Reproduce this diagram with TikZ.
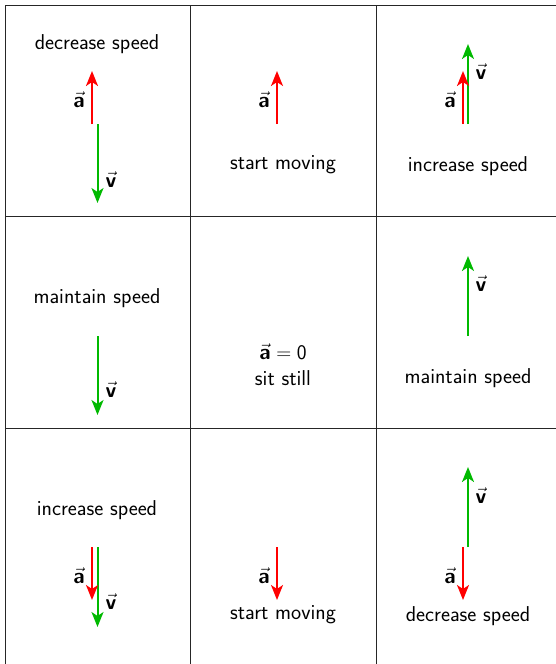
\documentclass[tikz,border=0pt]{standalone}
\usetikzlibrary{arrows.meta}
\renewcommand{\familydefault}{\sfdefault}
\definecolor{vgreen}{RGB}{0,185,0}
\definecolor{vred}{RGB}{255,0,0}
\newcommand{\va}{$\vec{\textbf{a}}$}
\newcommand{\vv}{$\vec{\textbf{v}}$}
\begin{document}
\begin{tikzpicture}[x=1pt,y=-1pt,
  every node/.style={font=\fontsize{21.5}{25}\selectfont\sffamily, inner sep=0pt},
  grid/.style={line width=1pt, black!85},
  avec/.style={line width=2pt, vred, -{Stealth[length=15pt,width=12pt,inset=4pt]}},
  vvec/.style={line width=2pt, vgreen, -{Stealth[length=15pt,width=12pt,inset=4pt]}}]
\useasboundingbox (0,0) rectangle (556,664);
\clip (0,0) rectangle (556,664);
% grid
\draw[grid] (5,700) -- (5,5) -- (600,5);
\draw[grid] (190,5) -- (190,700);
\draw[grid] (376,5) -- (376,700);
\draw[grid] (5,216) -- (600,216);
\draw[grid] (5,428) -- (600,428);
% row 1, col 1
\node (t11) at (97,44) {decrease speed};
\coordinate (a11s) at (92,124); \coordinate (a11e) at (92,71);
\coordinate (v11s) at (97.5,124); \coordinate (v11e) at (97.5,203);
\draw[avec] (a11s) -- (a11e);
\draw[vvec] (v11s) -- (v11e);
\node (la11) at (79,100) {\va};
\node (lv11) at (111,180) {\vv};
% row 1, col 2
\coordinate (a12s) at (277,124); \coordinate (a12e) at (277,71);
\draw[avec] (a12s) -- (a12e);
\node (la12) at (264,100) {\va};
\node (t12) at (283,165) {start moving};
% row 1, col 3
\coordinate (a13s) at (463,124); \coordinate (a13e) at (463,71);
\coordinate (v13s) at (468,124); \coordinate (v13e) at (468,44);
\draw[vvec] (v13s) -- (v13e);
\draw[avec] (a13s) -- (a13e);
\node (la13) at (450,100) {\va};
\node (lv13) at (481,72) {\vv};
\node (t13) at (468,166) {increase speed};
% row 2, col 1
\node (t21) at (97,298) {maintain speed};
\coordinate (v21s) at (97.5,336); \coordinate (v21e) at (97.5,415);
\draw[vvec] (v21s) -- (v21e);
\node (lv21) at (111,390) {\vv};
% row 2, col 2
\node (t22a) at (283,352) {$\vec{\textbf{a}}=\mathsf{0}$};
\node (t22b) at (283,378) {sit still};
% row 2, col 3
\coordinate (v23s) at (468,336); \coordinate (v23e) at (468,256);
\draw[vvec] (v23s) -- (v23e);
\node (lv23) at (481,284) {\vv};
\node (t23) at (468,378) {maintain speed};
% row 3, col 1
\node (t31) at (97,510) {increase speed};
\coordinate (a31s) at (92,547); \coordinate (a31e) at (92,600);
\coordinate (v31s) at (97.5,547); \coordinate (v31e) at (97.5,627);
\draw[vvec] (v31s) -- (v31e);
\draw[avec] (a31s) -- (a31e);
\node (la31) at (79,576) {\va};
\node (lv31) at (111,602) {\vv};
% row 3, col 2
\coordinate (a32s) at (277,547); \coordinate (a32e) at (277,600);
\draw[avec] (a32s) -- (a32e);
\node (la32) at (264,576) {\va};
\node (t32) at (283,615) {start moving};
% row 3, col 3
\coordinate (v33s) at (468,547); \coordinate (v33e) at (468,467);
\coordinate (a33s) at (463,547); \coordinate (a33e) at (463,600);
\draw[vvec] (v33s) -- (v33e);
\draw[avec] (a33s) -- (a33e);
\node (lv33) at (481,496) {\vv};
\node (la33) at (450,576) {\va};
\node (t33) at (468,616) {decrease speed};
\end{tikzpicture}
\end{document}
